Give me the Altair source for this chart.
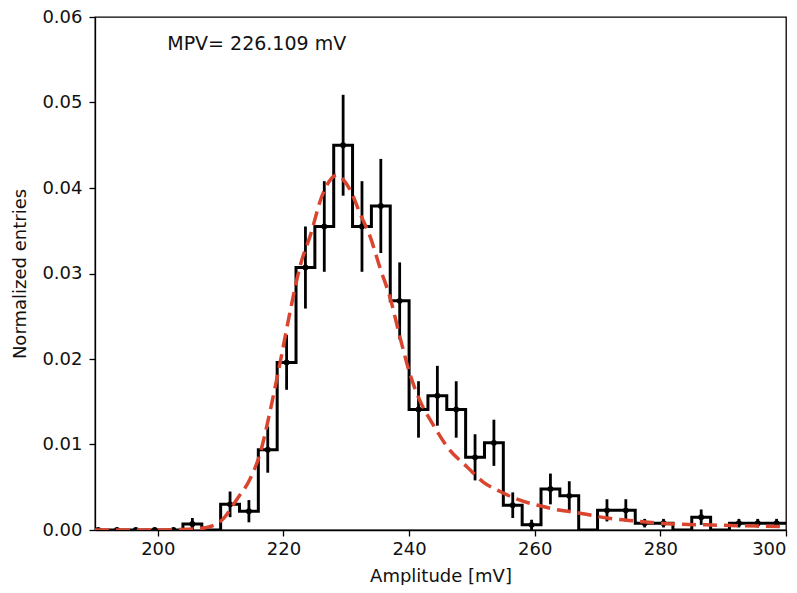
import altair as alt
import pandas as pd

# ---- data ----
bin_centers = [190.5, 193.5, 196.5, 199.5, 202.5, 205.5, 208.5, 211.5, 214.5, 217.5,
               220.5, 223.5, 226.5, 229.5, 232.5, 235.5, 238.5, 241.5, 244.5, 247.5,
               250.5, 253.5, 256.5, 259.5, 262.5, 265.5, 268.5, 271.5, 274.5, 277.5,
               280.5, 283.5, 286.5, 289.5, 292.5, 295.5, 298.5]
bin_values = [0.0, 0.0, 0.0, 0.0, 0.0, 0.0007, 0.0, 0.0030, 0.0022, 0.0094,
              0.0196, 0.0307, 0.0355, 0.0450, 0.0355, 0.0379, 0.0268, 0.0141, 0.0157, 0.0141,
              0.0085, 0.0102, 0.0029, 0.0006, 0.0048, 0.0040, 0.0, 0.0023, 0.0023, 0.0008,
              0.0008, 0.0, 0.0015, 0.0, 0.0008, 0.0008, 0.0008]
# None = no error bar / marker drawn for that bin
bin_errors = [0.0, 0.0, 0.0, 0.0, 0.0, 0.0007, None, 0.0015, 0.0013, 0.0027,
              0.0032, 0.0048, 0.0053, 0.0059, 0.0053, 0.0055, 0.0045, 0.0033, 0.0035, 0.0033,
              0.0027, 0.0027, 0.0015, 0.0006, 0.0018, 0.0017, None, 0.0013, 0.0013, 0.0005,
              0.0005, None, 0.0009, None, 0.0005, 0.0005, 0.0005]
bin_width = 3.0

fit_x = [190.0, 200.0, 205.0, 207.8, 210.4, 212.6, 214.7, 216.3, 217.9, 219.5,
         221.1, 222.7, 224.3, 226.1, 227.3, 228.5, 229.5, 230.6, 232.2, 233.8,
         235.4, 237.0, 238.6, 240.2, 241.8, 243.6, 246.2, 249.2, 251.8, 254.5,
         257.2, 261.0, 264.1, 266.2, 271.5, 276.8, 282.1, 287.4, 292.7, 300.0]
fit_y = [0.0, 0.0, 0.0001, 0.0003, 0.0013, 0.0036, 0.0060, 0.0090, 0.0140, 0.0197,
         0.0257, 0.0310, 0.0345, 0.0390, 0.0408, 0.0415, 0.0410, 0.0398, 0.0370, 0.0343,
         0.0306, 0.0271, 0.0224, 0.0181, 0.0150, 0.0126, 0.0096, 0.0074, 0.0056, 0.0045,
         0.0036, 0.0028, 0.0023, 0.0021, 0.0014, 0.0010, 0.0007, 0.0006, 0.0005, 0.0004]

mpv_label = "MPV= 226.109 mV"
x_ticks = [200, 220, 240, 260, 280, 300]
y_ticks = [0.0, 0.01, 0.02, 0.03, 0.04, 0.05, 0.06]

# ---- tables ----
step_rows = []
for i, (c, v) in enumerate(zip(bin_centers, bin_values)):
    step_rows.append({"i": i, "x": c - bin_width / 2, "y": v})
step_rows.append({"i": len(bin_centers), "x": bin_centers[-1] + bin_width / 2, "y": bin_values[-1]})
step_df = pd.DataFrame(step_rows)

err_rows = []
for c, v, e in zip(bin_centers, bin_values, bin_errors):
    if e is None:
        continue
    err_rows.append({"x": c, "y": v, "lo": v - e, "hi": v + e})
err_df = pd.DataFrame(err_rows)

fit_df = pd.DataFrame({"x": fit_x, "y": fit_y})
txt_df = pd.DataFrame({"x": [201.5], "y": [0.0561], "t": [mpv_label]})

FONT = "DejaVu Sans"
xscale = alt.Scale(domain=[190, 300], nice=False, zero=False)
yscale = alt.Scale(domain=[0, 0.06], nice=False)

xaxis = alt.Axis(values=x_ticks, format="d", title="Amplitude [mV]", grid=False,
                 tickSize=6, tickWidth=1.3, tickColor="#000", domainColor="#000",
                 domainWidth=1.3, labelFontSize=18, titleFontSize=18, labelFont=FONT,
                 titleFont=FONT, labelColor="#111", titleColor="#111", labelPadding=4,
                 titlePadding=9, titleFontWeight="normal")
yaxis = alt.Axis(values=y_ticks, format=".2f", title="Normalized entries", grid=False,
                 tickSize=6, tickWidth=1.3, tickColor="#000", domainColor="#000",
                 domainWidth=1.3, labelFontSize=18, titleFontSize=18, labelFont=FONT,
                 titleFont=FONT, labelColor="#111", titleColor="#111", labelPadding=7,
                 titlePadding=12, titleFontWeight="normal")

X = alt.X("x:Q", scale=xscale, axis=xaxis)
Y = alt.Y("y:Q", scale=yscale, axis=yaxis)

step = alt.Chart(step_df).mark_line(interpolate="step-after", color="black",
                                    strokeWidth=3, clip=True).encode(
    x=X, y=Y, order=alt.Order("i:Q"))

bars = alt.Chart(err_df).mark_rule(color="black", strokeWidth=2.8, clip=True).encode(
    x=alt.X("x:Q", scale=xscale), y=alt.Y("lo:Q", scale=yscale), y2="hi:Q")

dots = alt.Chart(err_df).mark_circle(color="black", size=34, opacity=1, clip=True).encode(
    x=alt.X("x:Q", scale=xscale), y=alt.Y("y:Q", scale=yscale))

fit = alt.Chart(fit_df).mark_line(interpolate="monotone", color="#d9452f", strokeWidth=3.5,
                                  strokeDash=[14, 7], clip=True).encode(
    x=alt.X("x:Q", scale=xscale), y=alt.Y("y:Q", scale=yscale))

txt = alt.Chart(txt_df).mark_text(align="left", baseline="alphabetic", fontSize=19,
                                  font=FONT, color="#111").encode(
    x=alt.X("x:Q", scale=xscale), y=alt.Y("y:Q", scale=yscale), text="t:N")

chart = alt.layer(step, bars, dots, fit, txt).properties(
    width=691, height=513,
    autosize=alt.AutoSizeParams(type="none"),
    padding={"left": 87, "top": 9, "right": 3, "bottom": 55},
    background="white",
).configure_view(stroke="black", strokeWidth=1.3)

chart.save("out.html", embed_options={"renderer": "svg", "actions": False})
